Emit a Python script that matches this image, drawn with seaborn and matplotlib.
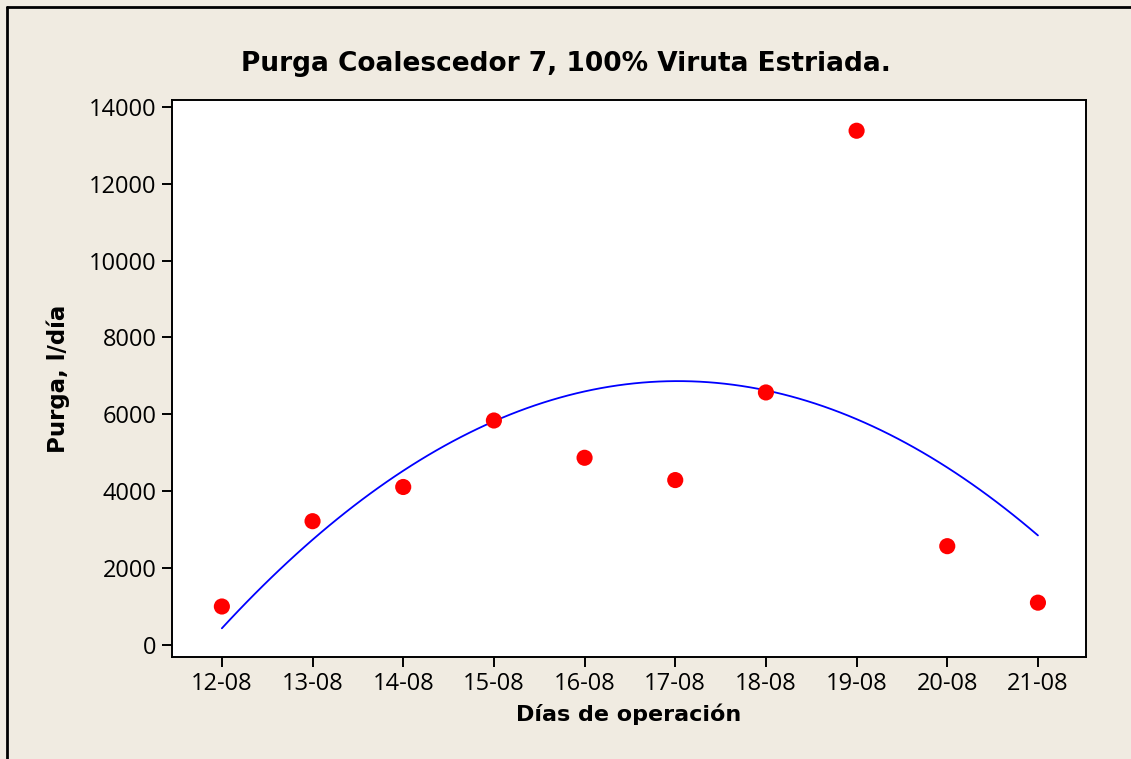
import numpy as np
import pandas as pd
import seaborn as sns
import matplotlib.pyplot as plt
from matplotlib.lines import Line2D

sns.set_style("ticks")
plt.rcParams['font.family'] = ['Open Sans', 'DejaVu Sans']
plt.rcParams['text.color'] = 'black'
plt.rcParams['axes.labelcolor'] = 'black'

dias = ["12-08", "13-08", "14-08", "15-08", "16-08",
        "17-08", "18-08", "19-08", "20-08", "21-08"]
purga = [1000, 3220, 4110, 5840, 4870, 4290, 6570, 13380, 2570, 1100]

df = pd.DataFrame({"dia": np.arange(len(dias)), "purga": purga})

bg = "#F0EBE1"
fig = plt.figure(figsize=(11.31, 7.59), dpi=100, facecolor=bg)
ax = fig.add_axes([172/1131, 1 - 657/759, (1086-172)/1131, (657-100)/759])
ax.set_facecolor("white")

sns.regplot(data=df, x="dia", y="purga", order=2, ci=None, ax=ax,
            scatter_kws=dict(color="red", s=135, alpha=1, edgecolor="none", zorder=3),
            line_kws=dict(color="blue", lw=1.3))

ax.set_xlim(-0.55, 9.53)
ax.set_ylim(-314, 14180)
ax.set_xticks(np.arange(len(dias)))
ax.set_xticklabels(dias)
ax.set_yticks(np.arange(0, 14001, 2000))

for s in ax.spines.values():
    s.set_color("black")
    s.set_linewidth(1.4)
ax.tick_params(direction="out", length=7, width=1.4, colors="black",
               labelsize=17, pad=4)

tfont = ['DejaVu Sans']
ax.set_xlabel("Días de operación", fontsize=16, fontweight="bold", family=tfont,
              labelpad=5, color="black")
ax.set_ylabel("Purga, l/día", fontsize=16.5, fontweight="bold", family=tfont,
              labelpad=14, color="black")
fig.text(0.5, 1 - 64/759, "Purga Coalescedor 7, 100% Viruta Estriada.",
         ha="center", va="center", fontsize=19, fontweight="bold", family=tfont,
         color="black")

# marco de la figura
fig.add_artist(Line2D([7/1131, 1], [1 - 7/759, 1 - 7/759], transform=fig.transFigure,
                      color="black", lw=2))
fig.add_artist(Line2D([7/1131, 7/1131], [0, 1 - 7/759], transform=fig.transFigure,
                      color="black", lw=2))

plt.savefig("out.png", dpi=100, facecolor=bg)
